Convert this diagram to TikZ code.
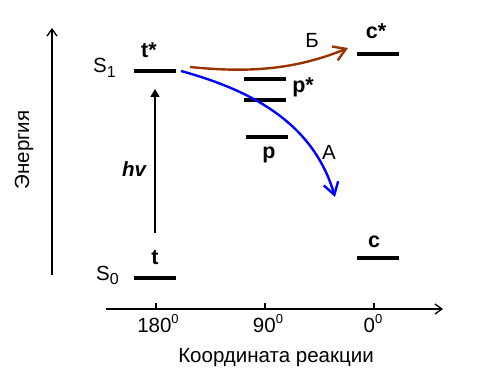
\documentclass[tikz,border=0pt]{standalone}
\usepackage{fontspec}
\setmainfont{Liberation Sans}
\usetikzlibrary{arrows.meta}

\definecolor{pathB}{RGB}{153,51,0}
\definecolor{pathA}{RGB}{0,0,255}

\newcommand\LVwidth{42}
\newcommand\LVthick{3.6pt}
\newcommand\MYsub[1]{\raisebox{-0.42ex}{\fontsize{16}{16}\selectfont #1}}
\newcommand\MYsup[1]{\raisebox{0.75ex}{\fontsize{13}{13}\selectfont #1}}

\begin{document}
\begin{tikzpicture}[x=1pt,y=-1pt,
  lvl/.style={line width=\LVthick},
  axis/.style={line width=1.3pt,-{Straight Barb[length=7pt,width=10pt]}},
  txt/.style={font=\fontsize{20.5}{24}\selectfont,inner sep=0pt},
  btxt/.style={font=\fontsize{21.5}{24}\selectfont\bfseries,inner sep=0pt},
  react/.style={line width=2.4pt,-{Straight Barb[length=12pt,width=15pt]}}]
\useasboundingbox (0,0) rectangle (479,379);

% axes
\coordinate (EB) at (52,275);
\coordinate (ET) at (52,28);
\coordinate (RL) at (106,309);
\coordinate (RR) at (443,309);

\draw[axis] (EB) -- (ET);
\draw[axis] (RL) -- (RR);
\foreach \x in {156,265,374}
  \draw[line width=2pt] (\x,309) -- (\x,303);

\draw (24,150) node[txt,rotate=90] (energy) {Энергия};
\draw (276,362) node[txt,anchor=base] (rcoord) {Координата реакции};
\draw (158,332) node[txt,anchor=base] (deg180) {180\MYsup{0}};
\draw (268,332) node[txt,anchor=base] (deg90) {90\MYsup{0}};
\draw (373,332) node[txt,anchor=base] (deg0) {0\MYsup{0}};

% levels
\coordinate (TS) at (134,71);
\coordinate (T) at (134,278);
\coordinate (PSU) at (244,79);
\coordinate (PSL) at (244,100);
\coordinate (P) at (246,137);
\coordinate (CS) at (357,54);
\coordinate (C) at (357,258);

\draw[lvl] (TS) -- ++(\LVwidth,0);
\draw[lvl] (T) -- ++(\LVwidth,0);
\draw[lvl] (PSU) -- ++(\LVwidth,0);
\draw[lvl] (PSL) -- ++(\LVwidth,0);
\draw[lvl] (P) -- ++(\LVwidth,0);
\draw[lvl] (CS) -- ++(\LVwidth,0);
\draw[lvl] (C) -- ++(\LVwidth,0);

\draw (93,73) node[txt,anchor=base west] (Sone) {S\MYsub{1}};
\draw (96,280) node[txt,anchor=base west] (Szero) {S\MYsub{0}};
\draw (149,58) node[btxt,anchor=base] (tsLab) {t*};
\draw (155,265) node[btxt,anchor=base] (tLab) {t};
\draw (303,93) node[btxt,anchor=base] (psLab) {p*};
\draw (269,159) node[btxt,anchor=base] (pLab) {p};
\draw (376,39) node[btxt,anchor=base] (csLab) {c*};
\draw (374,248) node[btxt,anchor=base] (cLab) {c};

% excitation
\coordinate (HB) at (155,233);
\coordinate (HT) at (155,89);
\draw[line width=1.3pt,-{Triangle[length=8pt,width=9pt]}] (HB) -- (HT);
\draw (134,177) node[font=\fontsize{20.5}{24}\selectfont\bfseries\itshape,anchor=base,inner sep=0pt] (hv) {hv};

% reaction paths
\coordinate (BS) at (190,67);
\coordinate (BE) at (348,48);
\coordinate (AS) at (181,71);
\coordinate (AE) at (335,197);

\draw[react,pathB] (BS) .. controls (240,72) and (290,72) .. (BE);
\draw[react,pathA] (AS) .. controls (250,90) and (313,122) .. (AE);

\draw (312,48) node[txt,anchor=base] (labB) {Б};
\draw (329,160) node[txt,anchor=base] (labA) {А};

\end{tikzpicture}
\end{document}
